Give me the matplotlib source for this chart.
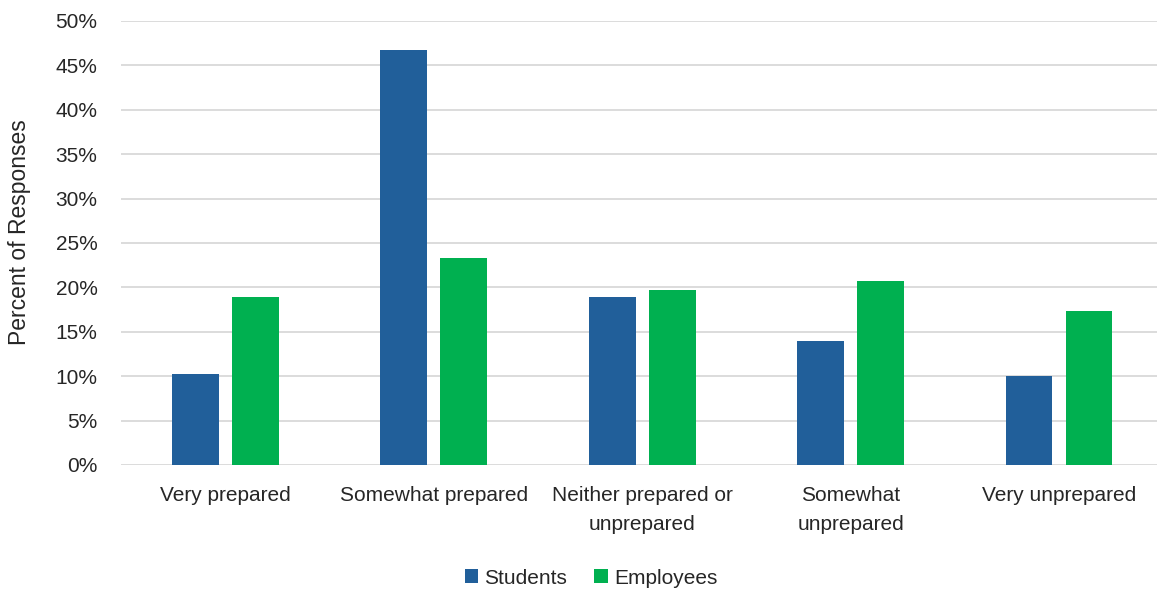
import matplotlib
matplotlib.use("Agg")
import matplotlib.pyplot as plt
import numpy as np
from matplotlib.ticker import FuncFormatter

categories = ["Very prepared", "Somewhat prepared", "Neither prepared or\nunprepared",
              "Somewhat\nunprepared", "Very unprepared"]
students = [10.3, 46.7, 18.9, 14.0, 10.0]
employees = [18.9, 23.3, 19.7, 20.7, 17.3]
series_names = ["Students", "Employees"]
colors = ["#215F9A", "#00B050"]

plt.rcParams["font.family"] = ["Liberation Sans", "DejaVu Sans"]

W, H = 1157, 590
fig = plt.figure(figsize=(W / 100, H / 100), dpi=100)
left, right, bottom, top = 121, 1157, 465, 21
ax = fig.add_axes([left / W, 1 - bottom / H, (right - left) / W, (bottom - top) / H])

x = np.arange(len(categories))
width = 0.225
offset = 0.144
ax.bar(x - offset, students, width, color=colors[0], label=series_names[0], zorder=3)
ax.bar(x + offset, employees, width, color=colors[1], label=series_names[1], zorder=3)

ax.set_ylim(0, 50)
ax.set_yticks(np.arange(0, 51, 5))
ax.yaxis.set_major_formatter(FuncFormatter(lambda v, p: f"{v:.0f}%"))
ax.set_xlim(-0.5, (right - 120.75) / 208.5 - 0.5)
ax.set_xticks(x)
ax.set_xticklabels(categories, fontsize=15, color="#262626", linespacing=1.65)

ax.grid(axis="y", color="#D9D9D9", linewidth=1.3, zorder=0)
for s in ax.spines.values():
    s.set_visible(False)
ax.tick_params(axis="both", length=0, labelsize=15, colors="#262626")
ax.tick_params(axis="x", pad=15)
ax.tick_params(axis="y", pad=17)

fig.text(20 / W, 1 - 232 / H, "Percent of Responses", rotation=90, ha="center",
         va="center", fontsize=16.5, color="#262626")

leg = fig.legend(loc="center", bbox_to_anchor=(591 / W, 1 - 578 / H), ncol=2,
                 frameon=False, fontsize=15, handlelength=0.65, handleheight=0.65,
                 handletextpad=0.3, columnspacing=1.3)
for t in leg.get_texts():
    t.set_color("#262626")

fig.savefig("out.png", dpi=100)
